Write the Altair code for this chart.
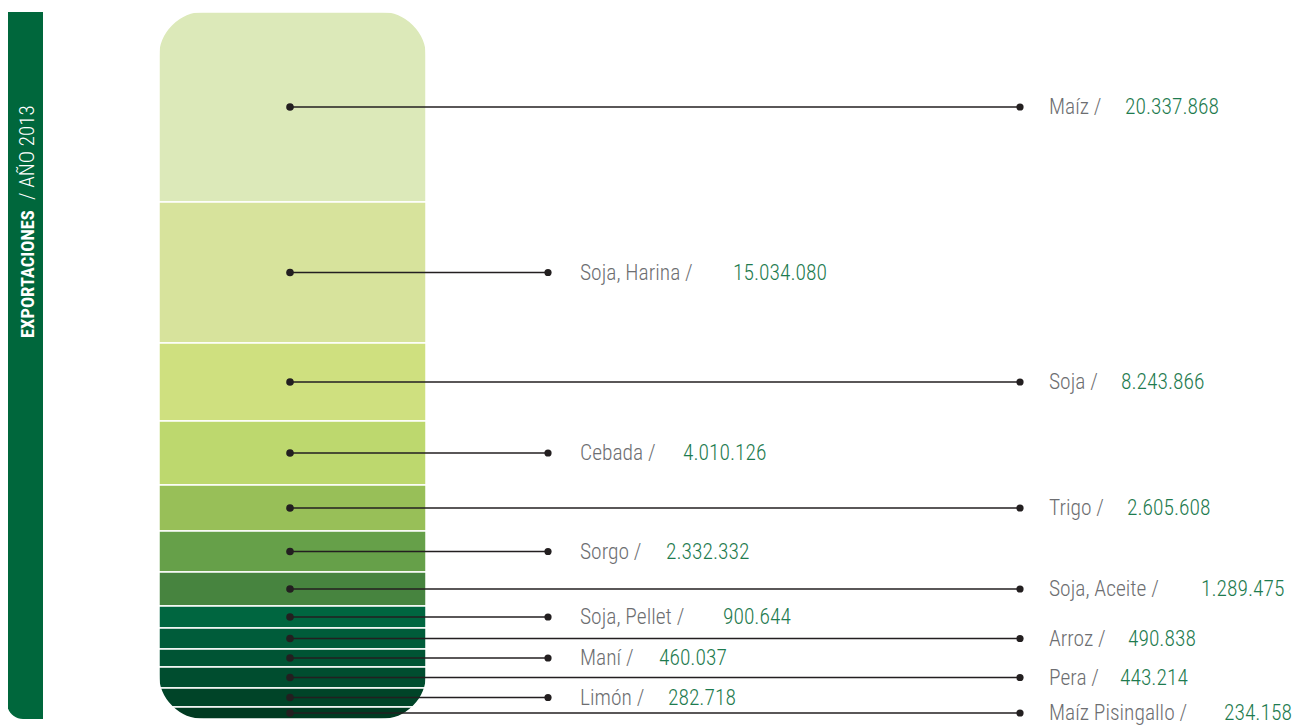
import altair as alt
import pandas as pd

# ---------------- data ----------------
productos = ["Maíz", "Soja, Harina", "Soja", "Cebada", "Trigo", "Sorgo",
             "Soja, Aceite", "Soja, Pellet", "Arroz", "Maní", "Pera",
             "Limón", "Maíz Pisingallo"]
toneladas = [20337868, 15034080, 8243866, 4010126, 2605608, 2332332,
             1289475, 900644, 490838, 460037, 443214, 282718, 234158]
# visible height of each band in the column (as drawn in the reference)
alto_segmento = [190, 141, 78, 64, 46, 41, 34, 22, 21, 18, 21, 19, 12]

# ---------------- styles / layout ----------------
colores = ["#dce9b9", "#d7e39c", "#cfe07f", "#bdd86e", "#98bf58", "#66a049",
           "#47843f", "#006640", "#005c3a", "#005434", "#004d2f", "#004428",
           "#003a21"]
valor_dx = [76, 153, 72, 103, 78, 86, 152, 143, 79, 79, 71, 88, 175]

FONT = "Roboto Condensed, Liberation Sans Narrow, DejaVu Sans Condensed, sans-serif"
COL_LEFT, COL_RIGHT, COL_TOP = 159, 426, 12
DOT_X = 290
LINE_END = {True: 1020, False: 548}
LABEL_X = {True: 1049, False: 580}
INK = "#231f20"
GRAY = "#6d6e71"
GREEN_TXT = "#1e7b4f"
SIDEBAR = "#00673c"
FS = 21.5


def miles(v):
    return f"{v:,}".replace(",", ".")


rows = []
acc = COL_TOP
for i, (p, t, h, dx) in enumerate(zip(productos, toneladas, alto_segmento, valor_dx)):
    largo = (i % 2 == 0)
    rows.append({
        "producto": p,
        "etiqueta": f"{p} /",
        "valor": miles(t),
        "y0": acc,
        "y1": acc + h,
        "ymid": acc + h / 2,
        "xl": COL_LEFT,
        "xr": COL_RIGHT,
        "dot_x": DOT_X,
        "line_end": LINE_END[largo],
        "label_x": LABEL_X[largo],
        "value_x": LABEL_X[largo] + dx,
    })
    acc += h
df = pd.DataFrame(rows)
COL_BOTTOM = acc

X = alt.Scale(domain=[8, 1294], nice=False, zero=False)
Y = alt.Scale(domain=[8, 725], reverse=True, nice=False, zero=False)

base = alt.Chart(df)

segments = base.mark_rect(stroke="white", strokeWidth=1.5).encode(
    x=alt.X("xl:Q", scale=X, axis=None),
    x2="xr:Q",
    y=alt.Y("y0:Q", scale=Y, axis=None),
    y2="y1:Q",
    color=alt.Color("producto:N", scale=alt.Scale(domain=productos, range=colores), legend=None),
)

R, W = 45, 15
one = alt.Data(values=[{"k": 1}])
mask = alt.Chart(one).mark_rect(
    filled=False, stroke="white", strokeWidth=2 * W, cornerRadius=R + W
).encode(
    x=alt.value(COL_LEFT - 8 - W), x2=alt.value(COL_RIGHT - 8 + W),
    y=alt.value(COL_TOP - 8 - W), y2=alt.value(COL_BOTTOM - 8 + W),
)

sidebar = alt.Chart(one).mark_rect(color=SIDEBAR, cornerRadiusBottomLeft=16).encode(
    x=alt.value(7 - 8), x2=alt.value(43 - 8),
    y=alt.value(12 - 8), y2=alt.value(719 - 8),
)
side_bold = alt.Chart(one).mark_text(
    text="EXPORTACIONES", angle=270, align="left", baseline="alphabetic",
    font=FONT, fontWeight="bold", fontSize=18.5, color="white"
).encode(x=alt.value(33.5 - 8), y=alt.value(338 - 8))
side_light = alt.Chart(one).mark_text(
    text="/  AÑO  2013", angle=270, align="left", baseline="alphabetic",
    font=FONT, fontWeight=300, fontSize=21, color="white"
).encode(x=alt.value(33.5 - 8), y=alt.value(200 - 8))

lines = base.mark_rule(color=INK, strokeWidth=1.4).encode(
    x=alt.X("dot_x:Q", scale=X), x2="line_end:Q", y=alt.Y("ymid:Q", scale=Y)
)
dots_in = base.mark_circle(color=INK, opacity=1, size=58).encode(
    x=alt.X("dot_x:Q", scale=X), y=alt.Y("ymid:Q", scale=Y)
)
dots_out = base.mark_circle(color=INK, opacity=1, size=52).encode(
    x=alt.X("line_end:Q", scale=X), y=alt.Y("ymid:Q", scale=Y)
)
names = base.mark_text(
    align="left", baseline="alphabetic", dy=7, font=FONT, fontWeight=300,
    fontSize=FS, color=GRAY
).encode(x=alt.X("label_x:Q", scale=X), y=alt.Y("ymid:Q", scale=Y), text="etiqueta:N")
values = base.mark_text(
    align="left", baseline="alphabetic", dy=7, font=FONT, fontWeight=300,
    fontSize=FS, color=GREEN_TXT
).encode(x=alt.X("value_x:Q", scale=X), y=alt.Y("ymid:Q", scale=Y), text="valor:N")

chart = alt.layer(
    segments, mask, sidebar, side_bold, side_light, lines, dots_in, dots_out, names, values
).properties(
    width=1286, height=717, padding=0, autosize="none", background="white"
).configure_view(stroke=None)

chart.save("out.html", embed_options={"renderer": "svg", "actions": False})
